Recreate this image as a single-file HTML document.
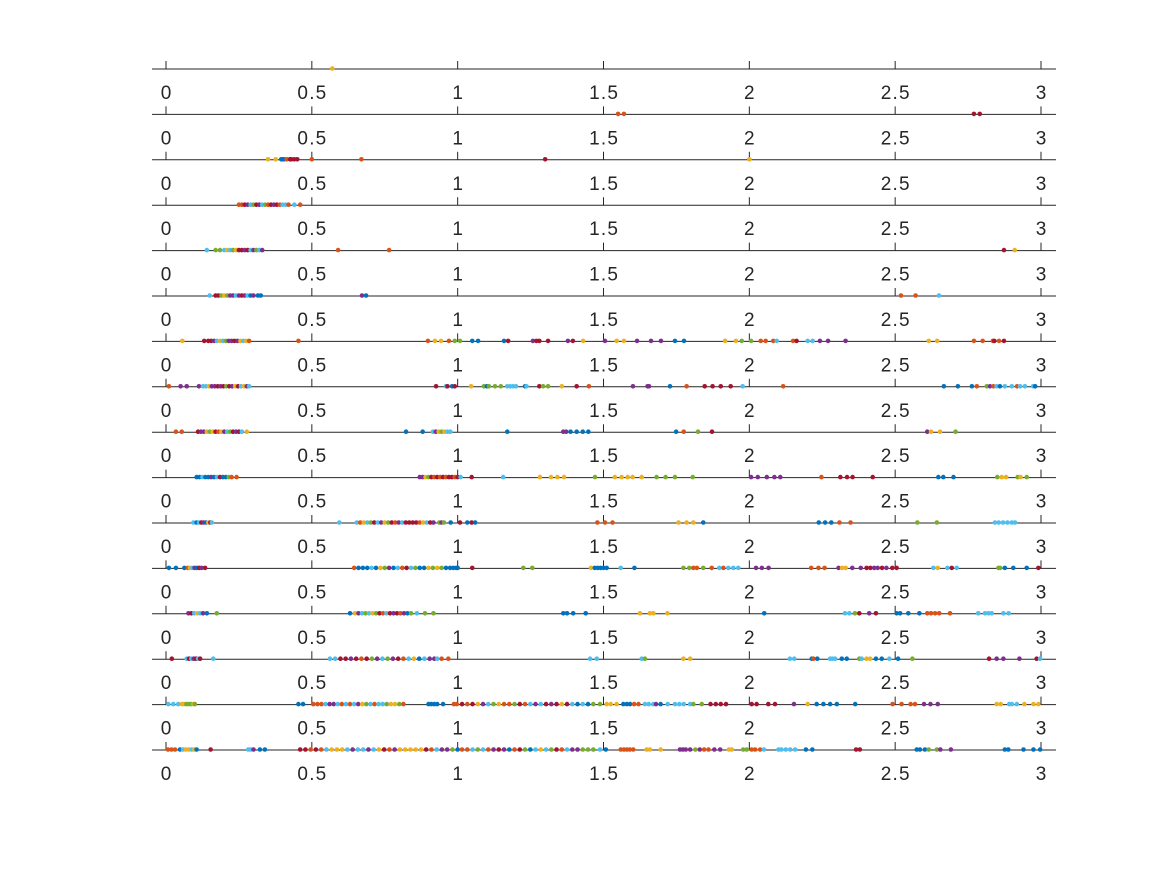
<!DOCTYPE html>
<html><head><meta charset="utf-8">
<style>html,body{margin:0;padding:0;background:#fff;}svg{display:block;}</style>
</head><body>
<svg id="chart" width="1167" height="875" viewBox="0 0 1167 875" xmlns="http://www.w3.org/2000/svg">
<rect width="1167" height="875" fill="#ffffff"/>
</svg>
<script>
const colors = ["#0072BD","#D95319","#EDB120","#7E2F8E","#77AC30","#4DBEEE","#A2142F"];
const tickValues = [0,0.5,1,1.5,2,2.5,3];
const tickLabels = ["0","0.5","1","1.5","2","2.5","3"];

const v0=[0.57]; const c0="2";
const v1=[1.55,1.57,2.77,2.79]; const c1="1166";
const v2=[0.35,0.376,0.395,0.40,0.405,0.414,0.425,0.43,0.44,0.45,0.50,0.67,1.30,2.0]; const c2="22000166661162";
const v3=[0.25,0.26,0.27,0.28,0.29,0.30,0.31,0.32,0.33,0.34,0.35,0.36,0.37,0.38,0.39,0.40,0.41,0.42,0.44,0.46]; const c3="11635463541636155151";
const v4=[0.14,0.17,0.185,0.20,0.21,0.22,0.23,0.24,0.25,0.26,0.27,0.28,0.29,0.30,0.31,0.32,0.33,0.59,0.765,2.873,2.91]; const c4="544525426636534531162";
const v5=[0.15,0.17,0.18,0.19,0.20,0.21,0.22,0.23,0.24,0.25,0.26,0.27,0.28,0.29,0.30,0.315,0.325,0.672,0.686,2.52,2.57,2.65]; const c5="5664243353635030030115";
const v6=[0.056,0.131,0.145,0.155,0.165,0.175,0.185,0.195,0.205,0.215,0.225,0.235,0.245,0.255,0.265,0.275,0.285,0.454,0.898,0.922,0.943,0.970,0.99,1.008,1.05,1.07,1.159,1.173,1.258,1.27,1.28,1.31,1.378,1.395,1.43,1.505,1.545,1.57,1.615,1.663,1.697,1.745,1.776,1.917,1.954,1.974,2.006,2.039,2.056,2.082,2.094,2.15,2.162,2.2,2.217,2.242,2.27,2.33,2.615,2.644,2.77,2.80,2.835,2.84,2.856,2.873];
const c6="26"+"663525433632521"+"1"+"1221"+"44"+"00"+"06"+"3666"+"36"+"2"+"3"+"22"+"333"+"00"+"22"+"44"+"111"+"5"+"16"+"55"+"333"+"22"+"1116"+"16";
const v7=[0.01,0.05,0.071,0.113,0.127,0.137,0.147,0.157,0.167,0.177,0.187,0.197,0.207,0.217,0.227,0.237,0.247,0.257,0.267,0.277,0.285,0.926,0.96,0.965,0.981,0.99,1.046,1.09,1.10,1.107,1.128,1.148,1.17,1.18,1.19,1.2,1.231,1.236,1.28,1.293,1.31,1.357,1.408,1.45,1.601,1.651,1.656,1.728,1.785,1.847,1.874,1.902,1.936,1.977,2.116,2.667,2.715,2.763,2.78,2.814,2.825,2.837,2.848,2.859,2.876,2.9,2.918,2.928,2.945,2.973,2.98];
const c7="1333"+"55233636463265235"+"65606"+"2"+"404"+"44"+"5555"+"05"+"644"+"2"+"6"+"1"+"333"+"0"+"1"+"6666"+"5"+"1"+"000"+"1"+"4"+"3"+"1"+"5"+"0"+"5"+"5"+"1"+"5"+"5"+"5"+"0";
const v8=[0.034,0.054,0.11,0.12,0.13,0.14,0.15,0.16,0.17,0.18,0.19,0.20,0.21,0.22,0.23,0.24,0.25,0.26,0.277,0.823,0.88,0.915,0.925,0.935,0.945,0.955,0.965,0.975,1.17,1.362,1.372,1.387,1.408,1.429,1.448,1.749,1.775,1.824,1.872,2.61,2.623,2.654,2.707];
const c8="11"+"63324261235463652"+"00"+"5324255"+"0"+"33"+"0000"+"0146"+"3224";
const v9=[0.105,0.115,0.125,0.135,0.145,0.155,0.165,0.175,0.185,0.195,0.205,0.215,0.225,0.242,0.87,0.88,0.89,0.90,0.91,0.92,0.93,0.94,0.95,0.96,0.97,0.98,0.99,1.0,1.01,1.048,1.156,1.282,1.32,1.342,1.365,1.471,1.539,1.562,1.583,1.6,1.631,1.682,1.713,1.745,1.806,2.006,2.029,2.06,2.086,2.106,2.247,2.312,2.335,2.354,2.423,2.648,2.665,2.7,2.85,2.865,2.88,2.92,2.93,2.951];
const c9="0050030560041"+"1"+"332461616166165"+"6"+"5"+"2222"+"4"+"22222"+"4444"+"33333"+"1"+"6666"+"000"+"422424";
const v10=[0.094,0.105,0.113,0.121,0.129,0.137,0.145,0.152,0.157,0.594,0.654,0.666,0.678,0.69,0.702,0.714,0.726,0.738,0.75,0.762,0.774,0.786,0.798,0.81,0.822,0.834,0.846,0.858,0.87,0.882,0.894,0.906,0.917,0.937,0.945,0.953,0.976,1.008,1.033,1.048,1.06,1.479,1.505,1.531,1.757,1.785,1.808,1.842,2.238,2.26,2.281,2.309,2.347,2.576,2.643,2.842,2.855,2.87,2.885,2.9,2.911];
const c10="5"+"05630265"+"5"+"51254653246135666612563"+"4340"+"6060"+"111"+"2220"+"000"+"11"+"44"+"555555";
const v11=[0.01,0.034,0.063,0.075,0.082,0.09,0.098,0.106,0.114,0.122,0.134,0.645,0.66,0.675,0.69,0.705,0.72,0.735,0.75,0.765,0.78,0.795,0.81,0.825,0.84,0.855,0.87,0.885,0.9,0.915,0.93,0.945,0.96,0.974,0.985,0.995,1.0,1.05,1.225,1.256,1.457,1.47,1.48,1.49,1.5,1.511,1.559,1.606,1.774,1.794,1.808,1.82,1.842,1.871,1.897,1.911,1.928,1.945,1.962,2.023,2.043,2.066,2.212,2.237,2.258,2.306,2.318,2.33,2.353,2.382,2.402,2.415,2.428,2.44,2.455,2.47,2.49,2.505,2.631,2.646,2.679,2.694,2.711,2.854,2.86,2.876,2.905,2.951,2.991];
const c11="0001"+"2530636"+"10005024305165400242400"+"000"+"6"+"44"+"2"+"00000"+"5"+"0"+"44"+"11"+"4"+"1"+"5"+"1"+"555"+"333"+"111"+"3"+"22"+"3"+"3"+"66336366"+"52565"+"44"+"000"+"6";
const v12=[0.077,0.087,0.097,0.107,0.117,0.127,0.14,0.174,0.631,0.648,0.66,0.672,0.684,0.696,0.708,0.72,0.732,0.744,0.756,0.768,0.78,0.792,0.804,0.816,0.828,0.84,0.86,0.888,0.917,1.362,1.375,1.396,1.439,1.625,1.659,1.671,1.719,2.051,2.328,2.343,2.362,2.377,2.411,2.434,2.505,2.517,2.545,2.583,2.61,2.623,2.637,2.651,2.688,2.785,2.808,2.82,2.831,2.871,2.889];
const c12="3652530"+"4"+"0"+"235452461563613045"+"44"+"0000"+"2222"+"0"+"554636"+"0000"+"11111"+"5555"+"55";
const v13=[0.02,0.071,0.079,0.087,0.095,0.103,0.11,0.117,0.162,0.562,0.58,0.598,0.616,0.634,0.652,0.67,0.688,0.706,0.724,0.742,0.76,0.778,0.796,0.814,0.832,0.85,0.868,0.886,0.904,0.92,0.93,0.945,0.968,1.454,1.477,1.631,1.642,1.774,1.797,2.139,2.154,2.214,2.22,2.233,2.277,2.285,2.294,2.317,2.334,2.377,2.385,2.402,2.414,2.434,2.454,2.48,2.51,2.559,2.822,2.848,2.871,2.926,2.985,2.997];
const c13="6"+"5653656"+"5"+"5566361643543615205335"+"11"+"55"+"54"+"22"+"55"+"010"+"555"+"00"+"45"+"22"+"00"+"5"+"0"+"4"+"6"+"33"+"3"+"6"+"5";
const v14=[0.008,0.025,0.042,0.054,0.062,0.07,0.078,0.086,0.094,0.099,0.454,0.47,0.505,0.519,0.533,0.547,0.561,0.575,0.589,0.603,0.617,0.631,0.645,0.659,0.673,0.687,0.701,0.715,0.729,0.743,0.757,0.771,0.785,0.8,0.814,0.9,0.91,0.92,0.93,0.95,0.987,0.997,1.015,1.033,1.051,1.069,1.087,1.105,1.123,1.141,1.159,1.177,1.195,1.213,1.231,1.249,1.267,1.285,1.303,1.321,1.339,1.357,1.375,1.393,1.411,1.429,1.447,1.465,1.488,1.511,1.525,1.545,1.568,1.58,1.591,1.605,1.62,1.642,1.655,1.671,1.68,1.696,1.72,1.745,1.76,1.775,1.797,1.808,1.837,1.867,1.885,1.902,1.92,2.008,2.025,2.065,2.088,2.153,2.2,2.231,2.254,2.277,2.3,2.363,2.491,2.522,2.553,2.568,2.599,2.621,2.646,2.848,2.862,2.891,2.9,2.917,2.943,2.974,2.991];
const c14="555"+"2244424"+"00"+"11153351515324515542241"+"00000"+"1"+"1616235421146153563626505044"+"222"+"000"+"11"+"555"+"3"+"0"+"5"+"5555"+"44"+"6666"+"66"+"66"+"3"+"2"+"0000"+"0"+"1"+"1"+"11"+"333"+"22"+"555"+"2"+"22";
const v15=[0.007,0.019,0.031,0.048,0.058,0.068,0.078,0.088,0.097,0.105,0.153,0.282,0.29,0.3,0.322,0.339,0.46,0.478,0.496,0.514,0.532,0.55,0.568,0.586,0.604,0.622,0.64,0.658,0.676,0.694,0.712,0.73,0.748,0.766,0.784,0.802,0.82,0.838,0.856,0.874,0.892,0.91,0.928,0.946,0.964,0.982,1.0,1.015,1.033,1.051,1.069,1.087,1.105,1.123,1.141,1.159,1.177,1.195,1.213,1.231,1.249,1.267,1.285,1.303,1.321,1.339,1.357,1.375,1.393,1.411,1.429,1.447,1.465,1.488,1.508,1.559,1.57,1.58,1.59,1.602,1.648,1.659,1.696,1.762,1.772,1.782,1.797,1.815,1.83,1.845,1.86,1.88,1.9,1.93,1.94,1.979,1.991,2.008,2.02,2.037,2.05,2.1,2.11,2.125,2.14,2.157,2.194,2.216,2.366,2.379,2.574,2.585,2.602,2.615,2.643,2.655,2.691,2.876,2.888,2.94,2.974,2.997];
const c15="111"+"0522520"+"6"+"553"+"00"+"6616152225355352613222226153340"+"115451363016405254615334445"+"0"+"11111"+"22"+"2"+"3333"+"4"+"3"+"1"+"1"+"3"+"3"+"22"+"44"+"111"+"5"+"55555"+"00"+"66"+"000"+"4"+"4"+"3"+"3"+"00"+"000";

const rowValues=[v0,v1,v2,v3,v4,v5,v6,v7,v8,v9,v10,v11,v12,v13,v14,v15];
const rowColors=[c0,c1,c2,c3,c4,c5,c6,c7,c8,c9,c10,c11,c12,c13,c14,c15];

const NS="http://www.w3.org/2000/svg";
const svg=document.getElementById('chart');
const X0=166, X1=1041, XMIN=0, XMAX=3;
function xs(v){return X0+(v-XMIN)/(XMAX-XMIN)*(X1-X0);}
function rowY(i){return 69+i*(750-69)/15;}

rowValues.forEach(function(vals,i){
  const y=rowY(i);
  const g=document.createElementNS(NS,'g');
  
  
  svg.appendChild(g);
  const line=document.createElementNS(NS,'line');
  
  
  line.setAttribute('x1',152);line.setAttribute('x2',1056);
  line.setAttribute('y1',y);line.setAttribute('y2',y);
  line.setAttribute('stroke','#262626');line.setAttribute('stroke-width','1');
  g.appendChild(line);
  tickValues.forEach(function(t,k){
    const tk=document.createElementNS(NS,'line');
    
    
    tk.setAttribute('x1',xs(t));tk.setAttribute('x2',xs(t));
    tk.setAttribute('y1',y);tk.setAttribute('y2',y-8);
    tk.setAttribute('stroke','#262626');tk.setAttribute('stroke-width','1');
    g.appendChild(tk);
    const tx=document.createElementNS(NS,'text');
    
    
    tx.setAttribute('x',xs(t)+0.6);tx.setAttribute('y',y+30);
    tx.setAttribute('text-anchor','middle');
    tx.setAttribute('font-family','"Liberation Sans", Arial, sans-serif');
    tx.setAttribute('font-size','19');
    tx.setAttribute('letter-spacing','1.2');
    tx.setAttribute('fill','#262626');
    tx.textContent=tickLabels[k];
    g.appendChild(tx);
  });
});
rowValues.forEach(function(vals,i){
  const y=rowY(i);
  const cs=rowColors[i];
  vals.forEach(function(v,j){
    const c=document.createElementNS(NS,'circle');
    
    
    c.setAttribute('cx',xs(v));c.setAttribute('cy',y-0.5);
    c.setAttribute('r','2.3');
    c.setAttribute('fill',colors[+(cs[j]||0)]);
    svg.appendChild(c);
  });
});
</script>
</body></html>
